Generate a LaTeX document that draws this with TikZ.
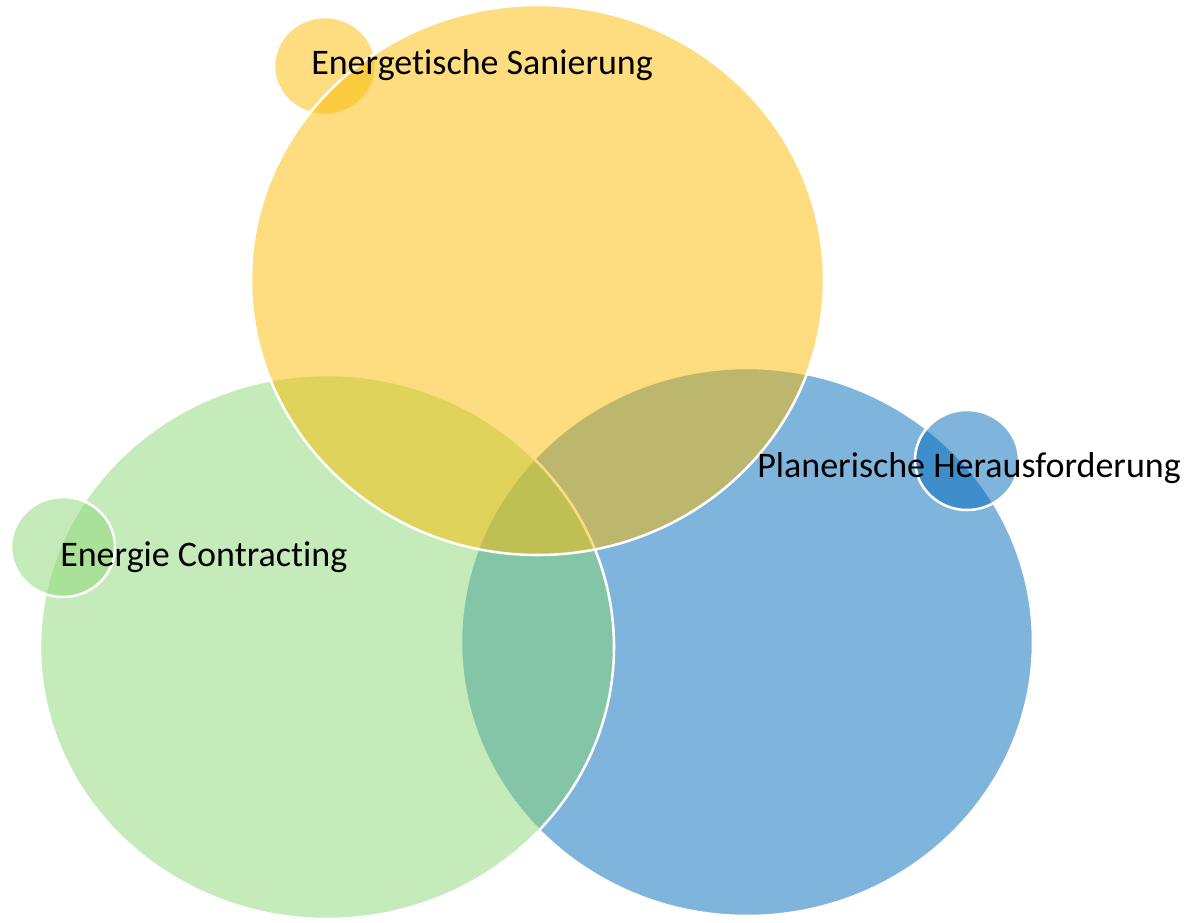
\documentclass[tikz,border=0pt]{standalone}
\usepackage{fontspec}
\setmainfont[RawFeature=-liga]{Carlito}
\begin{document}
\begin{tikzpicture}[x=0.75pt,y=-0.75pt,
  venn/.style={draw=white, line width=1.9pt, fill opacity=0.5},
  lbl/.style={anchor=base west, inner sep=0pt, font=\fontsize{27}{31}\selectfont, text=black}]
\useasboundingbox (0,0) rectangle (1188,922);
\definecolor{cyel}{RGB}{251,187,1}
\definecolor{cgrn}{RGB}{139,215,117}
\definecolor{cblu}{RGB}{0,105,187}
% big circles
\path[venn, fill=cblu] (747,642) ellipse [x radius=286, y radius=274];
\path[venn, fill=cblu] (967,460) ellipse [x radius=52, y radius=50];
\path[venn, fill=cgrn] (327,647) ellipse [x radius=287, y radius=272];
\path[venn, fill=cgrn] (63,547) ellipse [x radius=52, y radius=50];
\path[venn, fill=cyel] (325,66) ellipse [x radius=51, y radius=49];
\path[venn, fill=cyel] (537.5,280) ellipse [x radius=286.5, y radius=275];
% labels
\node[lbl] (ls) at (311,74) {Energetische Sanierung};
\node[lbl] (lp) at (757,477) {Planerische Herausforderung};
\node[lbl] (lc) at (60,566) {Energie Contracting};
\end{tikzpicture}
\end{document}
